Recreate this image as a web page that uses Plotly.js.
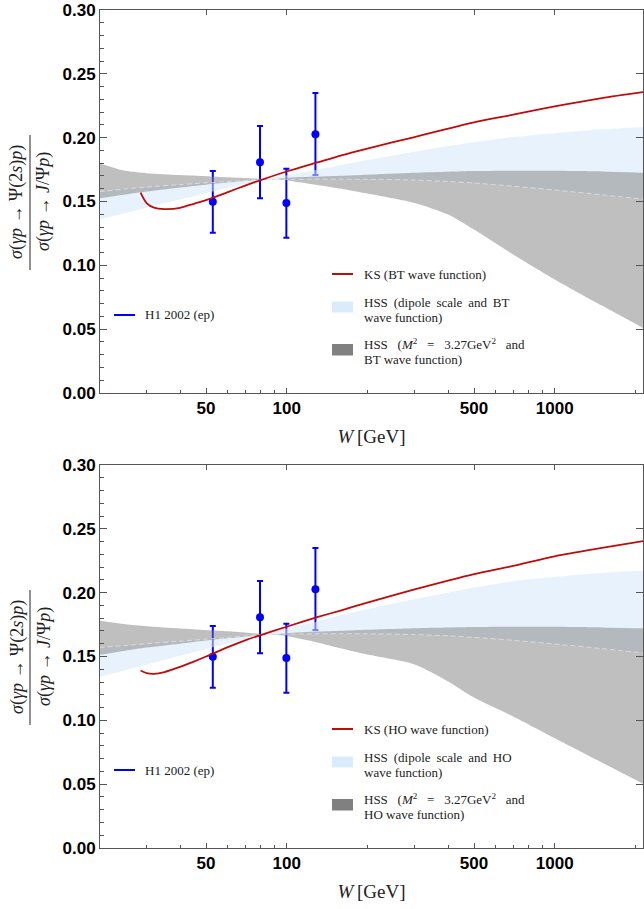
<!DOCTYPE html>
<html><head><meta charset="utf-8">
<script src="https://cdn.plot.ly/plotly-3.0.1.min.js"></script>
<style>html,body{margin:0;padding:0;background:#fff}</style>
</head><body><div id="chart" style="width:644px;height:909px"></div>
<script>
// ---------- data ----------
const W_h1 = [53, 79.5, 99.7, 128];
const R_h1 = [0.1498, 0.1807, 0.1488, 0.2026];
const R_h1_errPlus = [0.0241, 0.0284, 0.0269, 0.0324];
const R_h1_errMinus = [0.0242, 0.0282, 0.0271, 0.0319];

const W_ks = [28.5, 30, 32, 35, 40, 45, 50, 60, 70, 80, 100, 130, 160, 200, 300, 500, 700, 1000, 1500, 2200];
const KS_BT = [0.1570, 0.1488, 0.1452, 0.1441, 0.1450, 0.1482, 0.1510, 0.1572, 0.1625, 0.1668, 0.1735, 0.1806, 0.1862, 0.1915, 0.2005, 0.2120, 0.2180, 0.2245, 0.2310, 0.2360];
const KS_HO = [0.1390, 0.1370, 0.1364, 0.1378, 0.1418, 0.1460, 0.1500, 0.1572, 0.1627, 0.1668, 0.1733, 0.1808, 0.1862, 0.1922, 0.2025, 0.2145, 0.2210, 0.2285, 0.2350, 0.2408];

const W_band = [20, 25, 30, 40, 50, 60, 70, 80, 90, 100, 130, 160, 200, 300, 400, 500, 700, 1000, 1500, 2200];
// dipole-scale band edges (BT)
const DIP_BT_a = [0.1577, 0.1598, 0.1613, 0.1632, 0.1646, 0.1656, 0.1664, 0.1670, 0.1672, 0.1673, 0.1675, 0.1675, 0.1674, 0.1668, 0.1657, 0.1645, 0.1620, 0.1590, 0.1553, 0.1515];
const DIP_BT_b = [0.1360, 0.1410, 0.1451, 0.1515, 0.1565, 0.1606, 0.1640, 0.1670, 0.1688, 0.1705, 0.1748, 0.1786, 0.1825, 0.1890, 0.1935, 0.1965, 0.2005, 0.2035, 0.2065, 0.2085];
// M^2 band edges (BT)
const M2_BT_a = [0.1800, 0.1740, 0.1722, 0.1707, 0.1698, 0.1690, 0.1684, 0.1678, 0.1672, 0.1665, 0.1630, 0.1600, 0.1562, 0.1488, 0.1398, 0.1280, 0.1085, 0.0890, 0.0685, 0.0495];
const M2_BT_b = [0.1525, 0.1555, 0.1578, 0.1610, 0.1632, 0.1648, 0.1660, 0.1668, 0.1676, 0.1685, 0.1695, 0.1702, 0.1710, 0.1725, 0.1733, 0.1738, 0.1741, 0.1740, 0.1735, 0.1725];
// dipole-scale band edges (HO)
const DIP_HO_a = [0.1570, 0.1586, 0.1600, 0.1620, 0.1636, 0.1649, 0.1660, 0.1670, 0.1673, 0.1675, 0.1678, 0.1679, 0.1678, 0.1672, 0.1662, 0.1650, 0.1627, 0.1598, 0.1562, 0.1525];
const DIP_HO_b = [0.1340, 0.1393, 0.1436, 0.1505, 0.1558, 0.1601, 0.1638, 0.1670, 0.1695, 0.1720, 0.1775, 0.1825, 0.1870, 0.1950, 0.2000, 0.2040, 0.2090, 0.2125, 0.2155, 0.2175];
// M^2 band edges (HO)
const M2_HO_a = [0.1780, 0.1752, 0.1736, 0.1719, 0.1707, 0.1697, 0.1688, 0.1678, 0.1670, 0.1660, 0.1610, 0.1562, 0.1515, 0.1438, 0.1305, 0.1178, 0.1030, 0.0860, 0.0670, 0.0490];
const M2_HO_b = [0.1512, 0.1545, 0.1570, 0.1600, 0.1625, 0.1643, 0.1655, 0.1666, 0.1675, 0.1683, 0.1695, 0.1702, 0.1710, 0.1722, 0.1728, 0.1732, 0.1734, 0.1733, 0.1728, 0.1720];

const xMajor = [50, 100, 500, 1000];
const xMajorText = ['50', '100', '500', '1000'];
const xMinor = [30, 40, 60, 70, 80, 90, 200, 300, 400, 600, 700, 800, 900, 2000];
const yTicks = [0, 0.05, 0.10, 0.15, 0.20, 0.25, 0.30];

// ---------- styling ----------
const BLUE = '#0000ff';
const RED = 'rgb(190,12,12)';
const DIP_FILL = 'rgba(214,232,252,0.55)';
const M2_FILL = 'rgba(128,128,128,0.5)';
const AX = '#555';
const serif = '"Liberation Serif", "Times New Roman", serif';
const sans = '"Liberation Sans", Arial, Helvetica, sans-serif';
const SM = 0.7;

function panel(xa, ya, xo, yo, ks, dipA, dipB, m2A, m2B) {
  return [
    {x: W_h1, y: R_h1, xaxis: xa, yaxis: ya, type: 'scatter', mode: 'markers',
     marker: {color: BLUE, size: 8},
     error_y: {type: 'data', symmetric: false, array: R_h1_errPlus, arrayminus: R_h1_errMinus,
               color: BLUE, thickness: 2, width: 3},
     showlegend: false, hoverinfo: 'skip'},
    {x: W_band, y: dipA, xaxis: xa, yaxis: ya, type: 'scatter', mode: 'lines',
     line: {width: 0, shape: 'spline', smoothing: SM}, showlegend: false, hoverinfo: 'skip'},
    {x: W_band, y: dipB, xaxis: xa, yaxis: ya, type: 'scatter', mode: 'lines',
     line: {width: 0, shape: 'spline', smoothing: SM}, fill: 'tonexty', fillcolor: DIP_FILL, showlegend: false, hoverinfo: 'skip'},
    {x: W_band, y: m2A, xaxis: xa, yaxis: ya, type: 'scatter', mode: 'lines',
     line: {width: 0, shape: 'spline', smoothing: SM}, showlegend: false, hoverinfo: 'skip'},
    {x: W_band, y: m2B, xaxis: xa, yaxis: ya, type: 'scatter', mode: 'lines',
     line: {width: 0, shape: 'spline', smoothing: SM}, fill: 'tonexty', fillcolor: M2_FILL, showlegend: false, hoverinfo: 'skip'},
    {x: W_band, y: dipA, xaxis: xa, yaxis: ya, type: 'scatter', mode: 'lines',
     line: {width: 1, color: 'rgba(255,255,255,0.45)', dash: '5px,3px', shape: 'spline', smoothing: SM}, showlegend: false, hoverinfo: 'skip'},
    {x: W_ks, y: ks, xaxis: xa, yaxis: ya, type: 'scatter', mode: 'lines',
     line: {width: 1.8, color: RED, shape: 'spline', smoothing: SM}, showlegend: false, hoverinfo: 'skip'},
    // invisible trace that carries the mirrored (top/right) tick axes
    {x: [W_h1[0]], y: [R_h1[0]], xaxis: xo, yaxis: yo, type: 'scatter', mode: 'markers',
     marker: {opacity: 0, size: 1}, showlegend: false, hoverinfo: 'skip'}
  ];
}

const data = [].concat(
  panel('x', 'y', 'x3', 'y3', KS_BT, DIP_BT_a, DIP_BT_b, M2_BT_a, M2_BT_b),
  panel('x2', 'y2', 'x4', 'y4', KS_HO, DIP_HO_a, DIP_HO_b, M2_HO_a, M2_HO_b)
);

const XR = [1.30336, 3.3295];
function xaxisDef(anchor) {
  return {
    type: 'log', range: XR, anchor: anchor,
    tickmode: 'array', tickvals: xMajor, ticktext: xMajorText,
    ticks: 'inside', ticklen: 5, tickwidth: 1, tickcolor: AX,
    showline: true, linecolor: AX, linewidth: 1, mirror: true,
    showgrid: false, zeroline: false,
    minor: {tickmode: 'array', tickvals: xMinor, ticks: 'inside', ticklen: 3, tickcolor: AX, showgrid: false},
    tickfont: {family: sans, size: 17, weight: 'bold', color: '#000'},
    title: {text: '<i>W</i>\u2009[GeV]', font: {family: serif, size: 19, color: '#222'}, standoff: 12}
  };
}
function yaxisDef(anchor, domain) {
  return {
    range: [0, 0.30], domain: domain, anchor: anchor,
    tickmode: 'array', tickvals: yTicks, tickformat: '.2f',
    ticks: 'inside', ticklen: 7, tickwidth: 1, tickcolor: AX,
    showline: true, linecolor: AX, linewidth: 1, mirror: true,
    showgrid: false, zeroline: false,
    minor: {dtick: 0.01, tick0: 0, ticks: 'inside', ticklen: 4, tickcolor: AX, showgrid: false},
    tickfont: {family: sans, size: 17, weight: 'bold', color: '#000'}
  };
}
function xTopDef(over, anchor) {
  return {type: 'log', range: XR, overlaying: over, side: 'top', anchor: anchor,
    tickmode: 'array', tickvals: xMajor, showticklabels: false,
    ticks: 'inside', ticklen: 5, tickwidth: 1, tickcolor: AX,
    showline: false, showgrid: false, zeroline: false};
}
function yRightDef(over, anchor) {
  return {range: [0, 0.30], overlaying: over, side: 'right', anchor: anchor,
    tickmode: 'array', tickvals: yTicks, showticklabels: false,
    ticks: 'inside', ticklen: 7, tickwidth: 1, tickcolor: AX,
    showline: false, showgrid: false, zeroline: false};
}

// pixel -> paper helpers (layout only)
const L = 100, R = 1, T = 10, B = 61, WID = 644, HEI = 909;
const PW = WID - L - R, PH = HEI - T - B;
const px = v => (v - L) / PW;
const py = v => (HEI - B - v) / PH;

const shapes = [];
const annotations = [];
function txt(x, y, text, size, opts) {
  annotations.push(Object.assign({xref: 'paper', yref: 'paper', x: px(x), y: py(y), text: text,
    showarrow: false, xanchor: 'left', yanchor: 'middle',
    font: {family: serif, size: size, color: '#222'}}, opts || {}));
}
function addDecor(off, wf) {
  // y-axis fraction title
  txt(17, 202 + off, '<i>σ</i>(<i>γp</i> → Ψ(2<i>s</i>)<i>p</i>)', 18, {textangle: -90, xanchor: 'center'});
  txt(44, 202 + off, '<i>σ</i>(<i>γp</i> → <i>J</i>/Ψ<i>p</i>)', 18, {textangle: -90, xanchor: 'center'});
  shapes.push({type: 'line', xref: 'paper', yref: 'paper', x0: px(30), x1: px(30), y0: py(135 + off), y1: py(270 + off),
    line: {color: '#222', width: 1}});
  // H1 legend
  shapes.push({type: 'line', xref: 'paper', yref: 'paper', x0: px(114), x1: px(135), y0: py(315 + off), y1: py(315 + off),
    line: {color: BLUE, width: 2}});
  txt(143, 315 + off, 'H1 2002 (ep)', 13);
  // KS legend
  shapes.push({type: 'line', xref: 'paper', yref: 'paper', x0: px(332), x1: px(353), y0: py(274 + off), y1: py(274 + off),
    line: {color: RED, width: 2}});
  txt(362, 274 + off, 'KS (' + wf + ' wave function)', 13);
  // dipole legend
  shapes.push({type: 'rect', xref: 'paper', yref: 'paper', x0: px(332), x1: px(353), y0: py(301.5 + off), y1: py(312.5 + off),
    fillcolor: 'rgb(218,235,252)', line: {width: 0}});
  const g1 = ' \u2009';
  txt(362, 302 + off, 'HSS' + g1 + '(dipole' + g1 + 'scale' + g1 + 'and' + g1 + wf, 13);
  txt(362, 317 + off, 'wave function)', 13);
  // M2 legend
  shapes.push({type: 'rect', xref: 'paper', yref: 'paper', x0: px(332), x1: px(353), y0: py(344 + off), y1: py(355.5 + off),
    fillcolor: 'rgb(128,128,128)', line: {width: 0}});
  const g2 = ' \u2002';
  txt(362, 344 + off, 'HSS' + g2 + '(<i>M</i><sup>2</sup>' + g2 + '=' + g2 + '3.27GeV<sup>2</sup>' + g2 + 'and', 13);
  txt(362, 359 + off, wf + ' wave function)', 13);
}
addDecor(0, 'BT');
addDecor(455, 'HO');

const topBottom = (HEI - B - 393) / PH;
const botTop = 383 / PH;

const layout = {
  width: WID, height: HEI,
  margin: {l: L, r: R, t: T, b: B},
  paper_bgcolor: '#fff', plot_bgcolor: '#fff',
  showlegend: false,
  xaxis: xaxisDef('y'),
  yaxis: yaxisDef('x', [topBottom, 1]),
  xaxis2: xaxisDef('y2'),
  yaxis2: yaxisDef('x2', [0, botTop]),
  xaxis3: xTopDef('x', 'y'),
  yaxis3: yRightDef('y', 'x'),
  xaxis4: xTopDef('x2', 'y2'),
  yaxis4: yRightDef('y2', 'x2'),
  shapes: shapes,
  annotations: annotations
};

Plotly.newPlot('chart', data, layout, {displayModeBar: false, staticPlot: true});
</script>
</body></html>
